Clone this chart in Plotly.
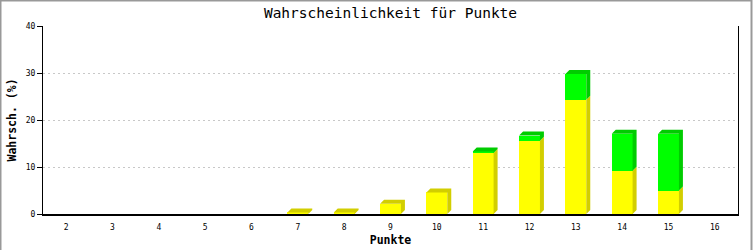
import plotly.graph_objects as go

# ---- data ----
punkte = [2, 3, 4, 5, 6, 7, 8, 9, 10, 11, 12, 13, 14, 15, 16]
gelb = [0, 0, 0, 0, 0, 0.3, 0.3, 2.2, 4.6, 13.0, 15.6, 24.3, 9.2, 5.0, 0]
gruen = [0, 0, 0, 0, 0, 0, 0, 0, 0, 0.3, 1.1, 5.5, 7.9, 12.1, 0]
y_ticks = [0, 10, 20, 30, 40]

# ---- geometry ----
W, H = 753, 250
ML, MR, MT, MB = 43, 15, 26, 36
PW, PH = W - ML - MR, H - MT - MB
XR = [1.5, 16.5]
YR = [0, 40]
BARW = 0.45
DEPTH = 4  # px
dx = DEPTH * (XR[1] - XR[0]) / PW
dy = DEPTH * (YR[1] - YR[0]) / PH

YEL, YEL_D = "#ffff00", "#d2ce00"
GRN, GRN_D = "#00ff00", "#00cc00"

fig = go.Figure()
fig.add_trace(go.Bar(x=punkte, y=gelb, width=BARW, marker=dict(color=YEL, line=dict(width=0)),
                     hoverinfo="skip", showlegend=False))
fig.add_trace(go.Bar(x=punkte, y=gruen, width=BARW, marker=dict(color=GRN, line=dict(width=0)),
                     hoverinfo="skip", showlegend=False))

# 3D side and top faces derived from values
faces = {YEL_D: ([], []), GRN_D: ([], [])}
for p, a, b in zip(punkte, gelb, gruen):
    if a + b <= 0:
        continue
    xl, xr = p - BARW / 2, p + BARW / 2
    segs = []
    if a > 0:
        segs.append((0, a, YEL_D))
    if b > 0:
        segs.append((a, a + b, GRN_D))
    for (y0, y1, c) in segs:
        xs, ys = faces[c]
        xs += [xr, xr + dx, xr + dx, xr, xr, None]
        ys += [y0, y0 + dy, y1 + dy, y1, y0, None]
    y1, c = segs[-1][1], segs[-1][2]
    xs, ys = faces[c]
    xs += [xl, xl + dx, xr + dx, xr, xl, None]
    ys += [y1, y1 + dy, y1 + dy, y1, y1, None]

for c, (xs, ys) in faces.items():
    fig.add_trace(go.Scatter(x=xs, y=ys, mode="lines", fill="toself", fillcolor=c,
                             line=dict(width=0, color=c), hoverinfo="skip", showlegend=False))

mono = "DejaVu Sans Mono"
fig.update_layout(
    width=W, height=H,
    margin=dict(l=ML, r=MR, t=MT, b=MB, autoexpand=False),
    paper_bgcolor="white", plot_bgcolor="white",
    barmode="stack",
    title=dict(text="Wahrscheinlichkeit für Punkte", x=0.5, xref="paper", xanchor="center",
               y=1 - 13 / H, yref="container", yanchor="middle",
               font=dict(family=mono, size=14.5, color="black")),
    xaxis=dict(range=XR, tickvals=punkte, ticktext=[str(p) for p in punkte],
               showgrid=False, zeroline=False, showline=True, linecolor="black", linewidth=2,
               ticks="outside", ticklen=4, tickcolor="rgba(0,0,0,0)",
               tickfont=dict(family=mono, size=8, color="black"),
               title=dict(text="<b>Punkte</b>", standoff=5,
                          font=dict(family=mono, size=11.5, color="black"))),
    yaxis=dict(range=YR, tickvals=y_ticks, showgrid=True, gridcolor="#c8c8c8", griddash="2px,3px",
               gridwidth=1, zeroline=False, showline=True, linecolor="black", linewidth=1,
               mirror=True, ticks="outside", ticklen=5, tickcolor="black",
               tickfont=dict(family=mono, size=8, color="black"),
               title=dict(text="<b>Wahrsch. (%)</b>", standoff=6,
                          font=dict(family=mono, size=11.5, color="black"))),
    shapes=[dict(type="rect", xref="paper", yref="paper",
                 x0=(0.5 - ML) / PW, x1=(W - 1.5 - ML) / PW,
                 y0=(MB - (H - 1.5)) / PH, y1=(H - 0.5 - MB) / PH,
                 line=dict(color="#999999", width=2), layer="below")],
)

fig.write_html("out.html")
